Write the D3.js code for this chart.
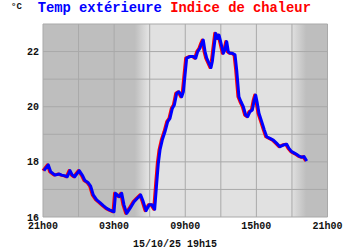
<!DOCTYPE html>
<html>
<head>
<meta charset="utf-8">
<script src="https://cdn.jsdelivr.net/npm/d3@7"></script>
<style>
  body { margin: 0; background: #fff; }
  svg { display: block; }
</style>
</head>
<body>
<div id="chart"></div>
<script>
// Data: hours since 21h00 (14/10) and temperatures in °C
const hours = [0.08, 0.45, 0.65, 1.01, 1.38, 1.58, 1.86, 2.05, 2.28, 2.47, 2.67, 3.06, 3.35, 3.54, 3.82,
  4.02, 4.24, 4.53, 4.81, 5.09, 5.37, 5.65, 5.99, 6.12, 6.44, 6.64, 6.83, 7.06, 7.34, 7.68, 7.96,
  8.24, 8.46, 8.69, 8.97, 9.20, 9.42, 9.59, 9.73, 9.87, 10.06, 10.29, 10.52, 10.71, 10.91, 11.08,
  11.28, 11.47, 11.70, 11.84, 11.98, 12.12, 12.40, 12.68, 12.88, 13.05, 13.24, 13.39, 13.52, 13.67,
  13.81, 14.00, 14.17, 14.28, 14.45, 14.57, 14.74, 14.85, 15.02, 15.21, 15.35, 15.50, 15.63, 15.78,
  15.97, 16.20, 16.34, 16.53, 16.70, 16.90, 17.10, 17.27, 17.46, 17.66, 17.82, 17.94, 18.08, 18.22,
  18.45, 18.67, 18.87, 19.15, 19.43, 19.72, 19.99, 20.27, 20.56, 20.75, 20.98, 21.32, 21.60, 21.82,
  22.02, 22.25];

const tempExt = [17.68, 17.89, 17.64, 17.52, 17.56, 17.52, 17.49, 17.46, 17.68, 17.52, 17.46, 17.68, 17.49, 17.32, 17.24,
  17.12, 16.80, 16.62, 16.52, 16.41, 16.31, 16.25, 16.19, 16.86, 16.74, 16.86, 16.44, 16.13, 16.31, 16.55, 16.68,
  16.80, 16.55, 16.23, 16.44, 16.44, 16.28, 17.22, 17.95, 18.43, 18.79, 19.09, 19.46, 19.58, 19.94, 20.06,
  20.49, 20.54, 20.36, 20.54, 21.15, 21.76, 21.82, 21.82, 21.76, 22.00, 22.12, 22.30, 22.42, 22.00,
  21.76, 21.58, 21.42, 21.63, 22.24, 22.66, 22.48, 22.60, 22.30, 21.94, 22.06, 22.36, 22.00, 21.94,
  21.94, 21.88, 21.33, 20.36, 20.18, 20.00, 19.70, 19.64, 19.82, 19.88, 20.24, 20.42, 20.12, 19.76,
  19.46, 19.16, 18.91, 18.85, 18.79, 18.67, 18.55, 18.61, 18.64, 18.49, 18.37, 18.29, 18.21, 18.17,
  18.19, 18.03];

const heatIndex = [17.68, 17.89, 17.64, 17.52, 17.56, 17.52, 17.49, 17.46, 17.68, 17.52, 17.46, 17.68, 17.49, 17.32, 17.24,
  17.12, 16.80, 16.62, 16.52, 16.41, 16.31, 16.25, 16.19, 16.86, 16.74, 16.86, 16.44, 16.13, 16.31, 16.55, 16.68,
  16.80, 16.55, 16.23, 16.44, 16.44, 16.28, 17.22, 17.95, 18.43, 18.79, 19.09, 19.46, 19.58, 19.94, 20.06,
  20.49, 20.54, 20.36, 20.54, 21.15, 21.76, 21.82, 21.82, 21.76, 22.00, 22.12, 22.30, 22.42, 22.00,
  21.76, 21.58, 21.42, 21.63, 22.24, 22.66, 22.48, 22.60, 22.30, 21.94, 22.06, 22.36, 22.00, 21.94,
  21.94, 21.88, 21.33, 20.36, 20.18, 20.00, 19.70, 19.64, 19.82, 19.88, 20.24, 20.42, 20.12, 19.76,
  19.46, 19.16, 18.91, 18.85, 18.79, 18.67, 18.55, 18.61, 18.64, 18.49, 18.37, 18.29, 18.21, 18.17,
  18.19, 18.03];

const xTickHours = [0, 6, 12, 18, 24];
const xTickLabels = ["21h00", "03h00", "09h00", "15h00", "21h00"];
const yTicks = [16, 18, 20, 22];

// day / night shading (hours since 21h00)
const dawn = [7.75, 8.85];
const dusk = [20.95, 22.2];

const W = 350, H = 250;
const plotLeft = 43, plotRight = 327.5, plotTop = 24, plotBottom = 217;
const night = "#bebebe", day = "#e1e1e1", gridColor = "#a9a9a9";
const mono = "'Liberation Mono', 'DejaVu Sans Mono', monospace";

const x = d3.scaleLinear().domain([0, 24]).range([plotLeft, plotRight]);
const y = d3.scaleLinear().domain([16, 23]).range([plotBottom, plotTop]);

const svg = d3.select("#chart").append("svg")
    .attr("width", W)
    .attr("height", H);

// Background gradient night -> day -> night
const grad = svg.append("defs").append("linearGradient")
    .attr("id", "bg")
    .attr("gradientUnits", "userSpaceOnUse")
    .attr("x1", plotLeft).attr("x2", plotRight)
    .attr("y1", 0).attr("y2", 0);

const off = h => (x(h) - plotLeft) / (plotRight - plotLeft);
[[0, night], [off(dawn[0]), night], [off(dawn[1]), day],
 [off(dusk[0]), day], [off(dusk[1]), night], [1, night]].forEach(s => {
    grad.append("stop").attr("offset", s[0]).attr("stop-color", s[1]);
});

svg.append("rect")
    .attr("x", plotLeft).attr("y", plotTop)
    .attr("width", plotRight - plotLeft).attr("height", plotBottom - plotTop)
    .attr("fill", "url(#bg)");

// Grid
svg.append("g")
    .selectAll("line")
    .data(d3.range(0, 25, 3))
    .join("line")
    .attr("x1", d => x(d)).attr("x2", d => x(d))
    .attr("y1", plotTop).attr("y2", plotBottom)
    .attr("stroke", gridColor).attr("stroke-width", 1);

svg.append("g")
    .selectAll("line")
    .data(d3.range(16, 24, 1))
    .join("line")
    .attr("x1", plotLeft).attr("x2", plotRight)
    .attr("y1", d => y(d)).attr("y2", d => y(d))
    .attr("stroke", gridColor).attr("stroke-width", 1);

// Lines
const line = vals => d3.line()
    .x(d => x(d))
    .y((d, i) => y(vals[i]))(hours);

svg.append("path")
    .attr("d", line(heatIndex))
    .attr("transform", "translate(-1,0)")
    .attr("fill", "none")
    .attr("stroke", "#ff0000")
    .attr("stroke-width", 3)
    .attr("stroke-linejoin", "round");

svg.append("path")
    .attr("d", line(tempExt))
    .attr("fill", "none")
    .attr("stroke", "#0000ff")
    .attr("stroke-width", 3)
    .attr("stroke-linejoin", "round");

// Axis labels
svg.append("g")
    .selectAll("text")
    .data(yTicks)
    .join("text")
    .attr("x", plotLeft - 4)
    .attr("y", d => y(d))
    .attr("dy", "0.35em")
    .attr("text-anchor", "end")
    .style("font-family", mono)
    .style("font-weight", "bold")
    .style("font-size", "10px")
    .attr("fill", "#111")
    .text(d => d);

svg.append("g")
    .selectAll("text")
    .data(xTickHours)
    .join("text")
    .attr("x", d => x(d))
    .attr("y", 229)
    .attr("text-anchor", "middle")
    .style("font-family", mono)
    .style("font-weight", "bold")
    .style("font-size", "10px")
    .attr("fill", "#111")
    .text((d, i) => xTickLabels[i]);

// Date stamp
svg.append("text")
    .attr("x", 175)
    .attr("y", 247)
    .attr("text-anchor", "middle")
    .style("font-family", mono)
    .style("font-weight", "bold")
    .style("font-size", "10px")
    .attr("fill", "#111")
    .text("15/10/25 19h15");

// Unit + title
svg.append("text")
    .attr("x", 11)
    .attr("y", 9)
    .style("font-family", mono)
    .style("font-weight", "bold")
    .style("font-size", "9px")
    .attr("fill", "#111")
    .text("°C");

const title = svg.append("text")
    .attr("x", 37.7)
    .attr("y", 11.5)
    .style("font-family", mono)
    .style("font-weight", "bold")
    .style("font-size", "13.8px");
title.append("tspan").attr("fill", "#0000ff").text("Temp extérieure ");
title.append("tspan").attr("fill", "#ff0000").text("Indice de chaleur");
</script>
</body>
</html>
